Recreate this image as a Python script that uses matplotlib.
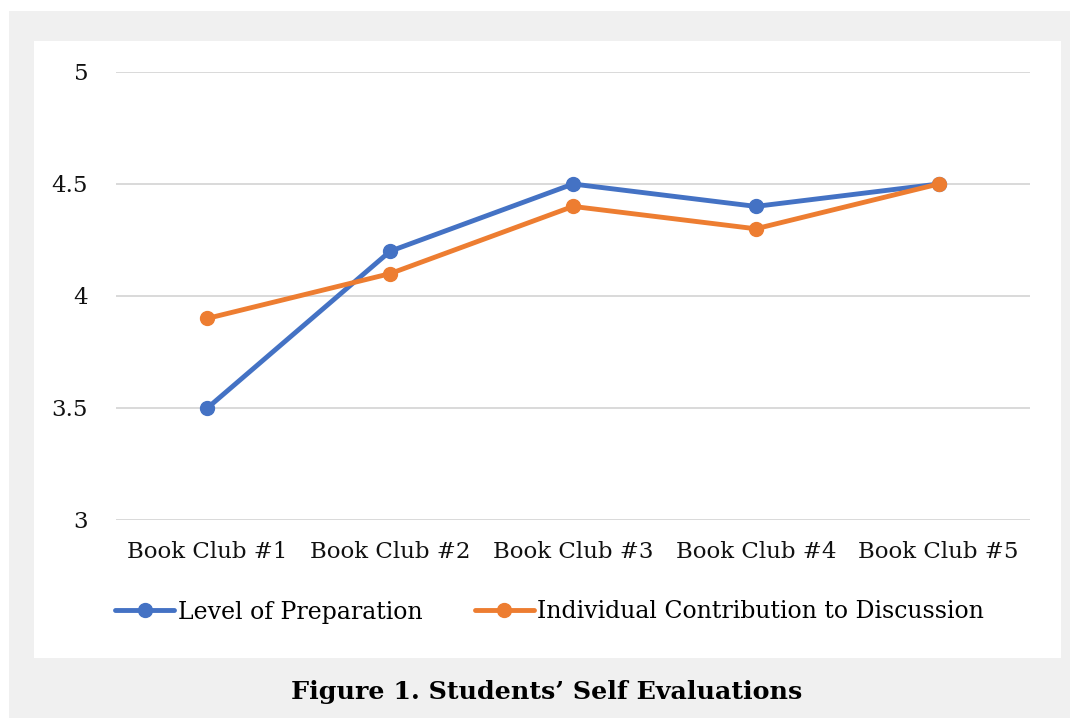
import matplotlib
matplotlib.use("Agg")
import matplotlib.pyplot as plt
from matplotlib.patches import Rectangle

clubs = ["Book Club #1", "Book Club #2", "Book Club #3", "Book Club #4", "Book Club #5"]
preparation = [3.5, 4.2, 4.5, 4.4, 4.5]
contribution = [3.9, 4.1, 4.4, 4.3, 4.5]
yticks = [3, 3.5, 4, 4.5, 5]
ytick_labels = ["3", "3.5", "4", "4.5", "5"]

plt.rcParams['font.family'] = ['DejaVu Serif']

W, H = 1073, 726
fig = plt.figure(figsize=(W / 100, H / 100), dpi=100)
fig.patch.set_facecolor("white")

# gray frame and white chart panel
fig.patches.append(Rectangle((9 / W, 1 - 718 / H), 1061 / W, 707 / H,
                             transform=fig.transFigure, facecolor="#f0f0f0",
                             edgecolor="none", zorder=-2))
fig.patches.append(Rectangle((34 / W, 1 - 658 / H), 1027 / W, 617 / H,
                             transform=fig.transFigure, facecolor="white",
                             edgecolor="none", zorder=-1))

ax = fig.add_axes([116 / W, 1 - 520 / H, 914 / W, 448 / H])
ax.set_facecolor("none")
ax.set_zorder(2)

x = list(range(len(clubs)))
ax.plot(x, preparation, color="#4472C4", lw=3.5, marker="o", ms=10,
        solid_capstyle="round", label="Level of Preparation", zorder=3)
ax.plot(x, contribution, color="#ED7D31", lw=3.5, marker="o", ms=10,
        solid_capstyle="round", label="Individual Contribution to Discussion", zorder=4)

ax.set_xlim(-0.5, len(clubs) - 0.5)
ax.set_ylim(3, 5)
ax.set_yticks(yticks)
ax.set_yticklabels(ytick_labels)
ax.set_xticks(x)
ax.set_xticklabels(clubs)
ax.grid(axis="y", color="#d9d9d9", lw=1.4)
ax.set_axisbelow(True)
for s in ax.spines.values():
    s.set_visible(False)
ax.tick_params(axis="both", length=0, labelsize=16.5, colors="#111111")
ax.tick_params(axis="y", pad=20)
ax.tick_params(axis="x", pad=15)

leg = fig.legend(loc="center left", bbox_to_anchor=(106 / W, 1 - 612 / H), ncol=2,
                 frameon=False, fontsize=17, handlelength=2.5, handletextpad=0.15,
                 columnspacing=2.2, borderaxespad=0)

fig.text(547 / W, 1 - 692 / H, "Figure 1. Students\u2019 Self Evaluations",
         ha="center", va="center", fontsize=18.3, fontweight="bold", color="black")

fig.savefig("out.png", dpi=100)
